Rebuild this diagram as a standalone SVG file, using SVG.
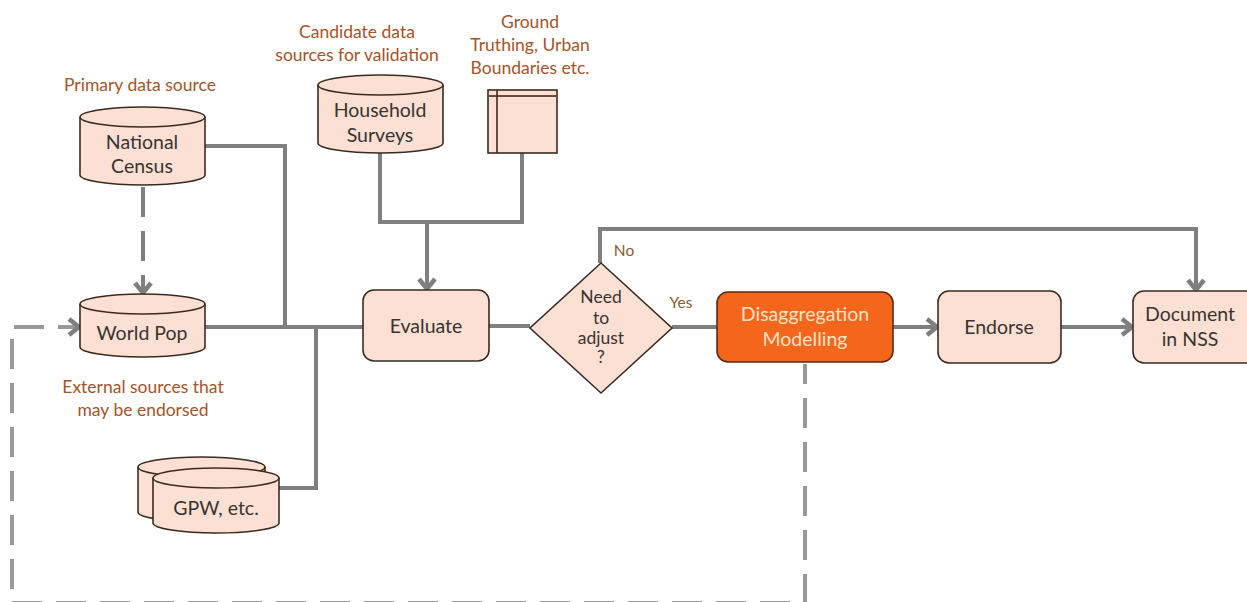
<svg xmlns="http://www.w3.org/2000/svg" width="1247" height="602" viewBox="0 0 1247 602">
<defs>
<marker id="arr" markerUnits="userSpaceOnUse" markerWidth="24" markerHeight="24" refX="20" refY="12" orient="auto">
<polyline points="9,4 19,12 9,20" fill="none" stroke="#7f7f7f" stroke-width="4.5" stroke-linejoin="miter"/>
</marker>
</defs>
<style>
.n{fill:#fbe0d3;stroke:#3b2a22;stroke-width:1.6}
.c{fill:none;stroke:#7f7f7f;stroke-width:4}
.d{fill:none;stroke:#7f7f7f;stroke-width:4;stroke-dasharray:30 14}
.t{font-family:Lato,"Open Sans",sans-serif;font-size:19.5px;fill:#3a3330;text-anchor:middle}
.l{font-family:Lato,"Open Sans",sans-serif;font-size:17.5px;fill:#a5542a;text-anchor:middle}
.y{font-family:Lato,"Open Sans",sans-serif;font-size:15.5px;fill:#8a5a30;text-anchor:middle}
.q{font-size:17.5px}
</style>
<rect width="1247" height="602" fill="#ffffff"/>
<g id="connectors">
<path class="c" d="M205,146 H285 V327"/>
<path class="c" d="M205,327 H363"/>
<path class="c" d="M279,488 H316 V327"/>
<path class="c" d="M380,153 V222 H522 V153"/>
<path class="c" d="M427,222 V290" marker-end="url(#arr)"/>
<path class="c" d="M489,326 H530"/>
<path class="c" d="M672,327 H717"/>
<path class="c" d="M600,263 V229 H1196 V291" marker-end="url(#arr)"/>
<path class="c" d="M893,327 H938" marker-end="url(#arr)"/>
<path class="c" d="M1061,327 H1133" marker-end="url(#arr)"/>
<path class="d" d="M143,187 V294" marker-end="url(#arr)"/>
<path class="d" d="M805,364 V603 H12 V327 H80" marker-end="url(#arr)" stroke-dashoffset="10" stroke-opacity="0.8"/>
</g>
<g id="label-primary"><text class="l" x="140" y="91">Primary data source</text></g>
<g id="label-candidate"><text class="l" x="357" y="38">Candidate data</text><text class="l" x="357" y="61">sources for validation</text></g>
<g id="label-ground"><text class="l" x="530" y="28">Ground</text><text class="l" x="530" y="51">Truthing, Urban</text><text class="l" x="530" y="74">Boundaries etc.</text></g>
<g id="label-external"><text class="l" x="143" y="393">External sources that</text><text class="l" x="143" y="416">may be endorsed</text></g>
<g id="national-census">
<path class="n" d="M80,117 A62.5,10 0 0 1 205,117 V175 A62.5,10 0 0 1 80,175 Z"/>
<path class="n" fill="none" d="M80,117 A62.5,10 0 0 0 205,117"/>
<text class="t" x="142" y="149">National</text><text class="t" x="142" y="173">Census</text>
</g>
<g id="household-surveys">
<path class="n" d="M318,85 A62.5,10 0 0 1 443,85 V143 A62.5,10 0 0 1 318,143 Z"/>
<path class="n" fill="none" d="M318,85 A62.5,10 0 0 0 443,85"/>
<text class="t" x="380" y="117">Household</text><text class="t" x="380" y="142">Surveys</text>
</g>
<g id="ground-truthing">
<rect class="n" x="488" y="90" width="69" height="63"/>
<line x1="488" y1="96" x2="557" y2="96" stroke="#6b4a3a" stroke-width="2"/>
<line x1="497" y1="90" x2="497" y2="153" stroke="#3b2a22" stroke-width="1.6"/>
</g>
<g id="world-pop">
<path class="n" d="M80,304 A62.5,10 0 0 1 205,304 V347 A62.5,10 0 0 1 80,347 Z"/>
<path class="n" fill="none" d="M80,304 A62.5,10 0 0 0 205,304"/>
<text class="t" x="142" y="340">World Pop</text>
</g>
<g id="gpw">
<path class="n" d="M138,467 A63.5,10 0 0 1 265,467 V512 A63.5,10 0 0 1 138,512 Z"/>
<path class="n" fill="none" d="M138,467 A63.5,10 0 0 0 265,467"/>
<path class="n" d="M153,478 A63,10 0 0 1 279,478 V523 A63,10 0 0 1 153,523 Z"/>
<path class="n" fill="none" d="M153,478 A63,10 0 0 0 279,478"/>
<text class="t" x="216" y="515">GPW, etc.</text>
</g>
<g id="evaluate">
<rect class="n" x="363" y="290" width="126" height="71" rx="11"/>
<text class="t" x="426" y="333">Evaluate</text>
</g>
<g id="decision">
<polygon class="n" points="601,263 672,328 601,393 530,328"/>
<text class="t q" x="601" y="303">Need</text>
<text class="t q" x="601" y="324">to</text>
<text class="t q" x="601" y="344">adjust</text>
<text class="t q" x="601" y="363">?</text>
</g>
<g id="label-no"><text class="y" x="624" y="256">No</text></g>
<g id="label-yes"><text class="y" x="681" y="308">Yes</text></g>
<g id="disaggregation">
<rect x="717" y="292" width="176" height="70" rx="11" fill="#f4661c" stroke="#5a2a18" stroke-width="1.6"/>
<text class="t" x="805" y="321" style="fill:#fde3c4">Disaggregation</text>
<text class="t" x="805" y="346" style="fill:#fde3c4">Modelling</text>
</g>
<g id="endorse">
<rect class="n" x="938" y="291" width="123" height="72" rx="11"/>
<text class="t" x="999" y="334">Endorse</text>
</g>
<g id="document">
<rect class="n" x="1133" y="291" width="124" height="72" rx="11"/>
<text class="t" x="1190" y="321">Document</text>
<text class="t" x="1190" y="346">in NSS</text>
</g>
</svg>
